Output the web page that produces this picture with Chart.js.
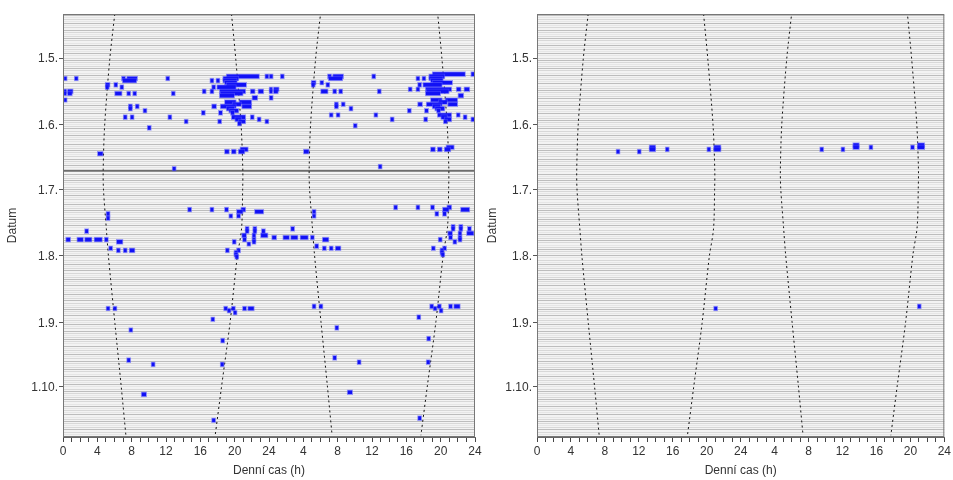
<!DOCTYPE html>
<html>
<head>
<meta charset="utf-8">
<script src="https://cdn.jsdelivr.net/npm/chart.js@4.4.0/dist/chart.umd.min.js"></script>
<style>
  body { margin: 0; background: #fff; }
  #wrap { position: relative; width: 953px; height: 480px; }
  .panel { position: absolute; top: 0; height: 480px; }
  #leftBox { left: 0; width: 490px; }
  #rightBox { left: 480px; width: 473px; }
</style>
</head>
<body>
<div id="wrap">
  <div class="panel" id="leftBox"><canvas id="leftChart"></canvas></div>
  <div class="panel" id="rightBox"><canvas id="rightChart"></canvas></div>
</div>
<script>
// rows are day-of-year, 1.5. = 121
const monthDays = [121, 152, 182, 213, 244, 274];
const monthLabels = ["1.5.", "1.6.", "1.7.", "1.8.", "1.9.", "1.10."];
const firstDay = 100.5;
const lastDay = 296.3;
const solsticeDay = 173;

// sunrise / sunset (h)
const sunDays = [100, 121, 152, 173, 182, 200, 213, 244, 274, 297];
const sunrise = [6.03, 5.45, 4.85, 4.68, 4.72, 5.05, 5.3, 6.05, 6.8, 7.35];
const sunset = [19.63, 20.13, 20.75, 20.95, 20.93, 20.8, 20.3, 19.45, 18.45, 17.7];

// activity: [day, from h, to h]
const activityLeft = [
  [129, 19.0, 22.9], [129, 23.5, 24.0],
  [130, 0.0, 0.5], [130, 1.3, 1.8], [130, 6.8, 7.3], [130, 7.4, 8.7], [130, 11.95, 12.45], [130, 18.6, 20.5],
  [131, 6.9, 8.6], [131, 17.1, 17.6], [131, 17.8, 18.3], [131, 18.6, 20.3],
  [132, 18.8, 20.3],
  [133, 4.9, 5.5], [133, 5.9, 6.4], [133, 19.0, 21.4],
  [134, 4.9, 5.4], [134, 6.6, 7.1], [134, 17.3, 17.8], [134, 17.9, 20.2],
  [136, 0.0, 0.45], [136, 0.5, 1.2], [136, 16.2, 16.7], [136, 17.1, 17.6], [136, 18.2, 21.3], [136, 21.8, 22.4], [136, 22.7, 23.4],
  [137, 0.0, 0.45], [137, 0.5, 1.1], [137, 6.0, 6.9], [137, 7.4, 7.9], [137, 8.1, 8.6], [137, 12.6, 13.1], [137, 18.3, 21.0],
  [138, 18.2, 20.0],
  [139, 22.0, 22.7],
  [140, 0.0, 0.5],
  [141, 18.8, 20.2], [141, 20.5, 22.0],
  [142, 19.7, 20.8],
  [143, 7.6, 8.1], [143, 8.4, 8.9], [143, 17.3, 17.9], [143, 18.3, 20.2], [143, 20.8, 22.0],
  [144, 7.6, 8.1], [144, 19.0, 20.0],
  [145, 9.3, 9.8], [145, 19.3, 20.5],
  [146, 16.1, 16.6], [146, 18.1, 18.6], [146, 19.5, 20.0],
  [148, 7.0, 7.5], [148, 7.8, 8.3], [148, 12.2, 12.7], [148, 19.6, 21.3], [148, 21.8, 22.3],
  [149, 20.0, 20.8], [149, 22.6, 23.1],
  [150, 14.1, 14.6], [150, 18.0, 18.5], [150, 20.4, 21.3], [150, 23.5, 24.0],
  [151, 20.3, 20.8],
  [153, 9.8, 10.3],
  [163, 20.6, 21.6],
  [164, 18.8, 19.4], [164, 19.6, 20.2], [164, 20.4, 21.2],
  [165, 4.0, 4.7],
  [172, 12.7, 13.2],
  [191, 14.5, 15.0], [191, 17.1, 17.6], [191, 18.8, 19.3], [191, 20.7, 21.3],
  [192, 20.2, 21.0], [192, 22.3, 23.4],
  [193, 5.0, 5.5],
  [194, 19.3, 19.8], [194, 20.2, 20.7],
  [195, 5.0, 5.5],
  [200, 21.2, 21.7], [200, 22.1, 22.6],
  [201, 2.5, 3.0], [201, 21.2, 21.7], [201, 22.1, 22.6], [201, 23.1, 23.6],
  [203, 20.8, 21.4], [203, 22.0, 22.5], [203, 23.0, 23.9],
  [205, 0.3, 0.9], [205, 1.6, 2.4], [205, 2.5, 3.4], [205, 3.6, 4.6], [205, 4.8, 5.3], [205, 20.9, 21.4], [205, 22.0, 22.5],
  [206, 6.2, 7.0], [206, 19.7, 20.2], [206, 22.0, 22.5],
  [207, 21.4, 21.9],
  [209, 5.3, 5.8],
  [210, 6.2, 6.7], [210, 7.0, 7.5], [210, 7.7, 8.4], [210, 18.9, 19.4], [210, 20.2, 20.7],
  [211, 19.9, 20.4], [212, 19.9, 20.4],
  [213, 20.0, 20.5],
  [237, 5.0, 5.5], [237, 5.8, 6.3], [237, 18.7, 19.2], [237, 19.6, 20.1], [237, 20.9, 21.4], [237, 21.5, 22.3],
  [238, 19.1, 19.6],
  [239, 19.8, 20.3],
  [242, 17.2, 17.7],
  [247, 7.65, 8.15],
  [252, 18.35, 18.85],
  [261, 7.4, 7.9],
  [263, 10.25, 10.75], [263, 18.3, 18.8],
  [277, 9.1, 9.75],
  [289, 17.3, 17.8]
];

const activityRight = [
  [162, 13.2, 14.0], [162, 20.8, 21.7],
  [163, 13.2, 14.0], [163, 15.1, 15.6], [163, 20.0, 20.5], [163, 20.8, 21.7],
  [164, 9.3, 9.8], [164, 11.8, 12.3],
  [237, 20.8, 21.3]
];

Chart.defaults.font.family = '"Liberation Sans", Arial, sans-serif';
Chart.defaults.font.size = 12;
Chart.defaults.color = "#333";

const plotFrame = {
  id: "plotFrame",
  beforeDraw(chart) {
    const a = chart.chartArea, ctx = chart.ctx;
    ctx.save();
    ctx.fillStyle = "#f3f3f3";
    ctx.fillRect(a.left, a.top, a.right - a.left, a.bottom - a.top);
    ctx.restore();
  },
  afterDraw(chart) {
    const a = chart.chartArea, ctx = chart.ctx;
    ctx.save();
    ctx.strokeStyle = "#777";
    ctx.lineWidth = 1;
    ctx.strokeRect(a.left + 0.5, a.top + 0.5, a.right - a.left - 1, a.bottom - a.top - 1);
    ctx.restore();
  }
};

function sunLine(hours, shift) {
  return {
    type: "line",
    data: sunDays.map((d, i) => ({ x: hours[i] + shift, y: shift ? d - 1 : d })),
    borderColor: "#111",
    borderWidth: 1,
    borderDash: [2, 3],
    pointRadius: 0,
    tension: 0.3,
    fill: false
  };
}

function rowColor(c) {
  if (!c.tick) return "#d8d8d8";
  let v = c.tick.value;
  if (v % 7 === 0 || v % 7 === 3) return "#bdbdbd";
  return v % 2 ? "#d8d8d8" : "#e6e6e6";
}

function makeActogram(id, activity, yWidth, padRight, solstice) {
  // double plot: right half of a row is the following day
  let bars = [];
  activity.forEach(function (a) {
    bars.push({ x: [a[1], a[2]], y: a[0] });
    bars.push({ x: [a[1] + 24, a[2] + 24], y: a[0] - 1 });
  });

  let datasets = [{
    type: "bar",
    data: bars,
    backgroundColor: "#1212f5",
    borderColor: "rgba(90,90,255,0.6)",
    borderWidth: 1,
    borderSkipped: false,
    barThickness: 5
  }];
  datasets.push(sunLine(sunrise, 0), sunLine(sunset, 0), sunLine(sunrise, 24), sunLine(sunset, 24));
  if (solstice) {
    datasets.push({
      type: "line",
      data: [{ x: 0, y: solsticeDay }, { x: 48, y: solsticeDay }],
      borderColor: "#111",
      borderWidth: 1,
      pointRadius: 0
    });
  }

  let dayTicks = [];
  for (let d = Math.ceil(firstDay); d <= lastDay; d++) dayTicks.push(d);

  new Chart(document.getElementById(id), {
    type: "bar",
    data: { datasets: datasets },
    options: {
      indexAxis: "y",
      responsive: true,
      maintainAspectRatio: false,
      animation: false,
      layout: { padding: { top: 14, right: padRight, left: 0, bottom: 0 } },
      plugins: { legend: { display: false }, tooltip: { enabled: false } },
      scales: {
        x: {
          type: "linear",
          min: 0,
          max: 48,
          afterBuildTicks: s => { s.ticks = Array.from({ length: 49 }, (_, h) => ({ value: h })); },
          afterFit: s => { s.height = 43; },
          border: { color: "#666" },
          grid: { drawOnChartArea: false, tickLength: 5, tickColor: "#444" },
          ticks: {
            autoSkip: false,
            maxRotation: 0,
            padding: 2,
            color: "#333",
            callback: v => (v % 4 === 0 ? String(v > 24 ? v - 24 : v) : "")
          },
          title: { display: true, text: "Denní cas (h)", color: "#333", padding: { top: 6, bottom: 2 } }
        },
        y: {
          type: "linear",
          reverse: true,
          min: firstDay,
          max: lastDay,
          afterBuildTicks: s => { s.ticks = dayTicks.map(v => ({ value: v })); },
          afterFit: s => { s.width = yWidth; },
          border: { color: "#666" },
          grid: {
            tickLength: 4,
            tickColor: c => (c.tick && monthDays.includes(c.tick.value) ? "#555" : "rgba(0,0,0,0)"),
            color: rowColor
          },
          ticks: {
            autoSkip: false,
            padding: 1,
            color: "#333",
            callback: v => {
              let i = monthDays.indexOf(v);
              return i >= 0 ? monthLabels[i] : "";
            }
          },
          title: { display: true, text: "Datum", color: "#333", padding: { top: 5, bottom: 2 } }
        }
      }
    },
    plugins: [plotFrame]
  });
}

document.addEventListener("DOMContentLoaded", function () {
  makeActogram("leftChart", activityLeft, 63, 15, true);
  makeActogram("rightChart", activityRight, 57, 8, false);
});
</script>
</body>
</html>
